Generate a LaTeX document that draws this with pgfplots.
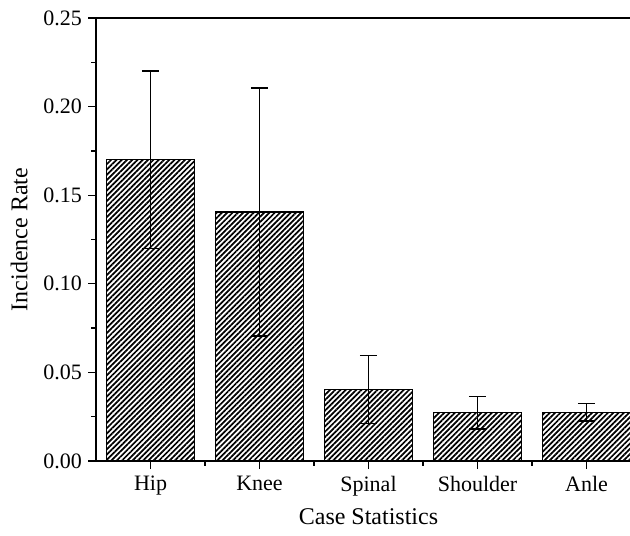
\documentclass[border=0pt]{standalone}
\usepackage{pgfplots}
\pgfplotsset{compat=1.18}
\usepackage{fontspec}
\setmainfont{Liberation Serif}
\usetikzlibrary{patterns.meta,calc}
\begin{document}
\begin{tikzpicture}
\begin{axis}[
  name=ax,
  scale only axis,
  width=408.75pt, height=332.25pt,
  xmin=-0.5, xmax=4.5,
  ymin=0, ymax=0.25,
  xtick={0,1,2,3,4},
  xticklabels={Hip,Knee,Spinal,Shoulder,Anle},
  minor xtick={0.5,1.5,2.5,3.5},
  ytick={0,0.05,0.1,0.15,0.2,0.25},
  minor ytick={0.025,0.075,0.125,0.175,0.225},
  yticklabel style={/pgf/number format/fixed,/pgf/number format/fixed zerofill,/pgf/number format/precision=2, xshift=-1pt},
  /pgf/number format/assume math mode=true,
  xtick pos=bottom, ytick pos=left,
  tick align=outside,
  major tick length=6pt, minor tick length=3.5pt,
  every tick/.style={black, line width=1pt},
  axis line style={line width=1pt},
  tick label style={font=\fontsize{16.5}{19}\selectfont},
  label style={font=\fontsize{18}{21}\selectfont},
  xlabel={Case Statistics},
  ylabel={Incidence Rate},
  xlabel style={yshift=-2pt},
  ylabel style={yshift=5pt},
  xticklabel style={yshift=-2pt},
  clip=false,
]
\addplot[
  ybar, bar width=0.805, bar shift=0pt,
  draw=black, line width=1pt,
  pattern={Lines[angle=45, distance=2.8pt, line width=1.3pt]}, pattern color=black,
  error bars/.cd, y dir=both, y explicit,
  error bar style={line width=1pt, black},
  error mark options={rotate=90, mark size=6.5pt, line width=1pt, black},
] coordinates {
  (0,0.170) +- (0,0.050)
  (1,0.1405) +- (0,0.0700)
  (2,0.0405) +- (0,0.0192)
  (3,0.0273) +- (0,0.0092)
  (4,0.0275) +- (0,0.0050)
};
\end{axis}
\pgfresetboundingbox
\path[use as bounding box] ($(ax.south west)+(-72pt,-55.5pt)$) rectangle ++(472.5pt,401.25pt);
\end{tikzpicture}
\end{document}
